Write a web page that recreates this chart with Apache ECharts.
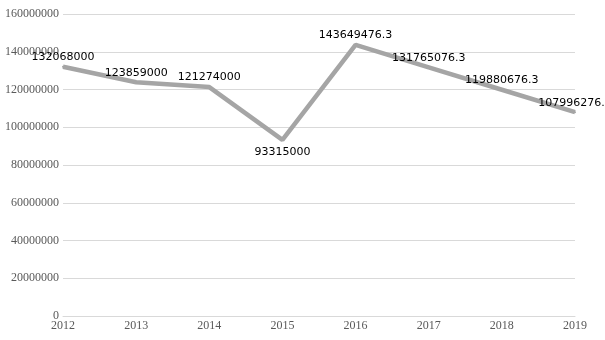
<!DOCTYPE html>
<html><head><meta charset="utf-8">
<script src="https://cdn.jsdelivr.net/npm/echarts@6/dist/echarts.min.js"></script>
<style>html,body{margin:0;padding:0;background:#fff}#c{width:605px;height:340px}</style>
</head><body><div id="c"></div>
<script>
var categories = ['2012','2013','2014','2015','2016','2017','2018','2019'];
var values = [132068000, 123859000, 121274000, 93315000, 143649476.3, 131765076.3, 119880676.3, 107996276.3];
var labelPositions = ['top','top','top','bottom','top','top','top','top'];
var yMin = 0, yMax = 160000000, yInterval = 20000000;

var chart = echarts.init(document.getElementById('c'));
chart.setOption({
  animation: false,
  backgroundColor: '#ffffff',
  grid: {left: 63, right: 30, top: 14, bottom: 24, containLabel: false},
  xAxis: {
    type: 'category', data: categories, boundaryGap: false,
    axisLine: {show: true, lineStyle: {color: '#d9d9d9'}},
    axisTick: {show: false},
    axisLabel: {color: '#595959', fontFamily: 'Liberation Serif', fontSize: 12, margin: 4},
    splitLine: {show: false}
  },
  yAxis: {
    type: 'value', min: yMin, max: yMax, interval: yInterval,
    axisLine: {show: false}, axisTick: {show: false},
    axisLabel: {color: '#595959', fontFamily: 'Liberation Serif', fontSize: 12, margin: 4,
      formatter: function(v){ return String(v); }},
    splitLine: {lineStyle: {color: '#d9d9d9', width: 1}}
  },
  series: [{
    type: 'line',
    data: values.map(function(v, i){
      return {value: v, label: {show: true, position: labelPositions[i], distance: labelPositions[i] === 'bottom' ? 6 : 3}};
    }),
    symbol: 'circle', symbolSize: 2, showSymbol: true,
    lineStyle: {color: '#a5a5a5', width: 4.5},
    itemStyle: {color: '#a5a5a5'},
    labelLayout: {hideOverlap: false},
    label: {show: true, color: '#000', fontFamily: 'DejaVu Sans', fontSize: 11, distance: 3,
      formatter: function(p){ return String(p.value); }}
  }]
});
</script></body></html>
